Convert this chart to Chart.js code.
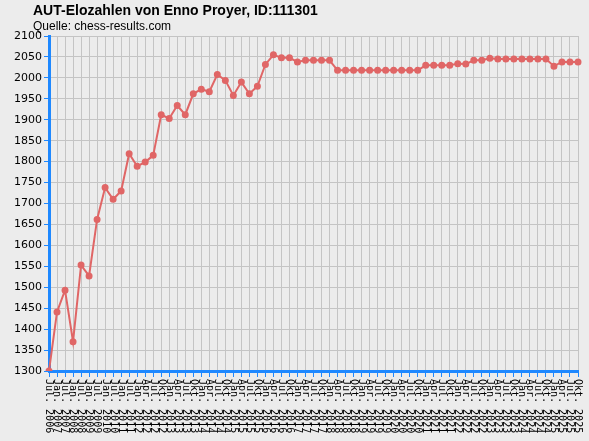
<!DOCTYPE html>
<html><head><meta charset="utf-8">
<script src="https://cdn.jsdelivr.net/npm/chart.js@4"></script>
<style>html,body{margin:0;padding:0;background:#ececec;}#w{width:589px;height:441px;}</style>
</head><body><div id="w"><canvas id="c"></canvas></div>
<script>
const labels = ["Jul. 2006","Jan. 2007","Jul. 2007","Jan. 2008","Jul. 2008","Jan. 2009","Jul. 2009","Jan. 2010","Jul. 2010","Jan. 2011","Jul. 2011",
"Jan. 2012","Apr. 2012","Jul. 2012","Okt. 2012","Jan. 2013","Apr. 2013","Jul. 2013","Okt. 2013","Jan. 2014","Apr. 2014","Jul. 2014","Okt. 2014",
"Jan. 2015","Apr. 2015","Jul. 2015","Okt. 2015","Jan. 2016","Apr. 2016","Jul. 2016","Okt. 2016","Jan. 2017","Apr. 2017","Jul. 2017","Okt. 2017",
"Jan. 2018","Apr. 2018","Jul. 2018","Okt. 2018","Jan. 2019","Apr. 2019","Jul. 2019","Okt. 2019","Jan. 2020","Apr. 2020","Jul. 2020","Okt. 2020",
"Jan. 2021","Apr. 2021","Jul. 2021","Okt. 2021","Jan. 2022","Apr. 2022","Jul. 2022","Okt. 2022","Jan. 2023","Apr. 2023","Jul. 2023","Okt. 2023",
"Jan. 2024","Apr. 2024","Jul. 2024","Okt. 2024","Jan. 2025","Apr. 2025","Jul. 2025","Okt. 2025"];
const elo = [1300,1441,1493,1370,1553,1527,1662,1738,1710,1730,1819,1789,1799,1815,1912,1903,1934,1912,1962,1973,1967,2008,1994,1958,
1990,1962,1980,2032,2055,2048,2048,2038,2042,2042,2042,2042,
2018,2018,2018,2018,2018,2018,2018,2018,2018,2018,2018,
2030,2030,2030,2030,2034,2033,2042,2042,2047,2045,2045,2045,2045,2045,2045,2045,2028,2038,2038,2038];
const title = "AUT-Elozahlen von Enno Proyer, ID:111301";
const subtitle = "Quelle: chess-results.com";
const blue = '#1e88ff';
const deco = {
  id:'deco',
  afterDraw(ch){
    const c=ch.ctx, x=ch.scales.x, ya=ch.chartArea.bottom;
    c.save();
    c.fillStyle='#000';
    c.font='bold 14px "Liberation Sans", Arial, sans-serif';
    c.textBaseline='top';
    c.fillText(title,33,4);
    c.font='12px "Liberation Sans", Arial, sans-serif';
    c.fillText(subtitle,33,21);
    c.font='10px "DejaVu Sans Mono", monospace';
    c.textBaseline='middle';c.textAlign='left';
    labels.forEach((l,i)=>{
      const px=x.getPixelForValue(i);
      c.save();c.translate(px,ya+8);c.rotate(Math.PI/2);c.fillText(l,0,0);c.restore();
    });
    c.restore();
  }
};
new Chart(document.getElementById('c'),{
  type:'line',
  data:{labels,datasets:[{data:elo,borderColor:'#e06666',backgroundColor:'#e06666',borderWidth:2,pointRadius:2.5,pointHoverRadius:2.5,tension:0}]},
  options:{
    responsive:true,maintainAspectRatio:false,animation:false,
    layout:{padding:{top:36,right:11,left:0,bottom:0}},
    plugins:{legend:{display:false},tooltip:{enabled:false}},
    scales:{
      x:{offset:false,grid:{color:'#c4c4c4',tickColor:blue,tickLength:6,lineWidth:1},border:{color:blue,width:3},
         ticks:{display:false},afterFit(s){s.height=70;}},
      y:{min:1300,max:2100,grid:{color:'#c4c4c4',tickColor:blue,tickLength:5},border:{color:blue,width:3},
         ticks:{stepSize:50,color:'#000',font:{family:'DejaVu Sans',size:11},padding:2,autoSkip:false,callback:v=>String(v)},
         afterFit(s){s.width=49;}}
    }
  },
  plugins:[deco]
});
</script></body></html>
